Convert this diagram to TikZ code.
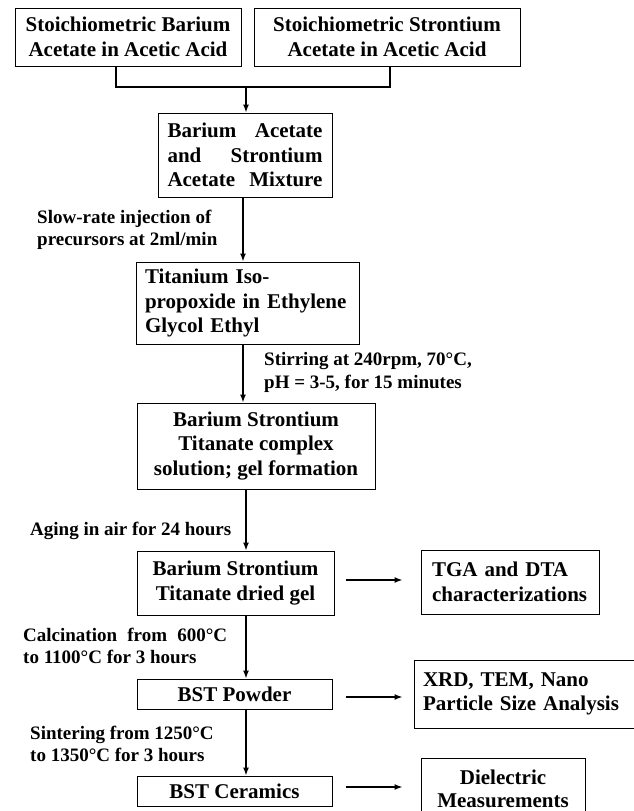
\documentclass[tikz,border=0pt]{standalone}
\usepackage{fontspec}
\setmainfont{Liberation Serif}
\usetikzlibrary{arrows.meta}
\newcommand\myboxfont{\fontsize{21}{24.5}\selectfont\bfseries}
\newcommand\mylblfont{\fontsize{19}{22.5}\selectfont\bfseries}
\tikzset{
  box/.style={draw, line width=1pt, inner sep=0pt, font=\myboxfont, align=center},
  lbl/.style={inner sep=0pt, anchor=west, align=left, font=\mylblfont},
  arr/.style={line width=1.4pt, -{Latex[length=8pt,width=6pt]}},
  link/.style={line width=1.4pt},
}
\begin{document}
\begin{tikzpicture}[x=1pt,y=-1pt]
\useasboundingbox (0,0) rectangle (633,811);
\fill[white] (0,0) rectangle (633,811);
% boxes
\node[box, minimum width=226pt, minimum height=58pt] (b1) at (128,37) {Stoichiometric Barium\\Acetate in Acetic Acid};
\node[box, minimum width=266pt, minimum height=58pt] (b2) at (387,37) {Stoichiometric Strontium\\Acetate in Acetic Acid};
\node[box, minimum width=174pt, minimum height=84pt] (b3) at (245,155) {\makebox[155pt][s]{Barium Acetate}\\\makebox[155pt][s]{and Strontium}\\\makebox[155pt][s]{Acetate Mixture}};
\node[box, text width=205pt, inner xsep=9pt, minimum height=82pt, align=left] (b4) at (247.5,303) {Titanium Iso-\\propoxide in Ethylene\\Glycol Ethyl};
\node[box, minimum width=238pt, minimum height=86pt] (b5) at (256,446) {Barium Strontium\\Titanate complex\\solution; gel formation};
\node[box, minimum width=197pt, minimum height=64pt] (b6) at (235.5,583) {Barium Strontium\\Titanate dried gel};
\node[box, text width=156pt, inner xsep=11pt, minimum height=64pt, align=left] (b7) at (510,582) {TGA and DTA\\characterizations};
\node[box, minimum width=195pt, minimum height=30pt] (b8) at (234.5,694) {BST Powder};
\node[box, text width=204pt, inner xsep=9pt, minimum height=68pt, align=left] (b9) at (525,694) {XRD, TEM, Nano\\Particle Size Analysis};
\node[box, minimum width=195pt, minimum height=30pt] (b10) at (234.5,791) {BST Ceramics};
\node[box, minimum width=164pt, minimum height=62pt, font=\fontsize{21}{23}\selectfont\bfseries] (b11) at (503,789) {Dielectric\\Measurements};
% junction
\coordinate (j1) at (116,87);
\coordinate (j2) at (390,87);
\coordinate (jm) at (246,87);
\coordinate (s1) at (243,0);
\coordinate (s2) at (246,0);
\draw[link] (b1.south -| j1) -- (j1) -- (j2) -- (b2.south -| j2);
\draw[arr] (jm) -- (b3.north -| jm);
\draw[arr] (b3.south -| s1) -- (b4.north -| s1);
\draw[arr] (b4.south -| s1) -- (b5.north -| s1);
\draw[arr] (b5.south -| s2) -- (b6.north -| s2);
\draw[arr] (b6.south -| s2) -- (b8.north -| s2);
\draw[arr] (b8.south -| s2) -- (b10.north -| s2);
% side arrows
\draw[arr] ([xshift=11pt,yshift=3pt]b6.east) -- ([xshift=-18pt,yshift=2pt]b7.west);
\draw[arr] ([xshift=13pt,yshift=-3pt]b8.east) -- ([xshift=-11pt,yshift=-3pt]b9.west);
\draw[arr] ([xshift=13pt,yshift=4pt]b10.east) -- ([xshift=-18pt,yshift=2pt]b11.west);
% labels
\node[lbl] (l1) at (37,230) {Slow-rate injection of\\precursors at 2ml/min};
\node[lbl] (l2) at (264,372.5) {Stirring at 240rpm, 70°C,\\pH = 3-5, for 15 minutes};
\node[lbl] (l3) at (30,531) {Aging in air for 24 hours};
\node[lbl] (l4) at (23,646) {\makebox[204pt][s]{Calcination from 600°C}\\to 1100°C for 3 hours};
\node[lbl] (l5) at (30,744) {Sintering from 1250°C\\to 1350°C for 3 hours};
\end{tikzpicture}
\end{document}
